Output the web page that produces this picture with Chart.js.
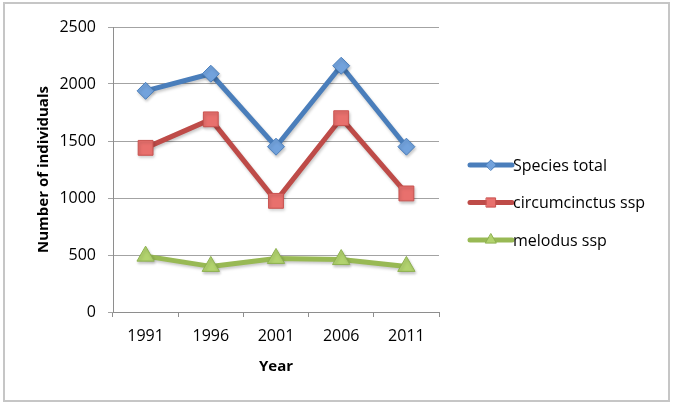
<!DOCTYPE html>
<html><head><meta charset="utf-8">
<script src="https://cdn.jsdelivr.net/npm/chart.js@4/dist/chart.umd.min.js"></script>
<style>
html,body{margin:0;padding:0;background:#fff;}
#wrap{position:relative;width:676px;height:412px;overflow:hidden;}
#frame{position:absolute;left:3px;top:2px;width:663px;height:396px;border:2px solid #c6c6c6;}
canvas{position:absolute;left:0;top:0;}
</style></head><body>
<div id="wrap"><div id="frame"></div><canvas id="c" width="676" height="412"></canvas></div>
<script>
const years = ['1991','1996','2001','2006','2011'];
const speciesTotal = [1940, 2090, 1450, 2160, 1450];
const circumcinctus = [1440, 1690, 975, 1700, 1040];
const melodus = [490, 400, 470, 460, 400];
const seriesNames = ['Species total', 'circumcinctus ssp', 'melodus ssp'];
const yMin = 0, yMax = 2500, yStep = 500;
const xTitle = 'Year';
const yTitle = 'Number of individuals';

const FONT = "'Open Sans', sans-serif";

const softShadow = {
  id: 'softShadow',
  beforeDatasetsDraw(chart) {
    const ctx = chart.ctx;
    ctx.save();
    ctx.shadowColor = 'rgba(0,0,0,0.22)';
    ctx.shadowBlur = 3;
    ctx.shadowOffsetX = 1;
    ctx.shadowOffsetY = 2;
  },
  afterDatasetsDraw(chart) {
    chart.ctx.restore();
  }
};

const sideLegend = {
  id: 'sideLegend',
  afterDraw(chart) {
    const ctx = chart.ctx;
    const H = Chart.helpers;
    chart.data.datasets.forEach((ds, i) => {
      const y = 165 + i * 37.5;
      const x0 = 470, x1 = 512;
      ctx.save();
      ctx.strokeStyle = ds.borderColor;
      ctx.lineWidth = 5;
      ctx.lineCap = 'round';
      ctx.beginPath(); ctx.moveTo(x0, y); ctx.lineTo(x1, y); ctx.stroke();
      ctx.fillStyle = ds.pointBackgroundColor;
      ctx.strokeStyle = ds.pointBorderColor;
      ctx.lineWidth = 1;
      H.drawPoint(ctx, {pointStyle: ds.pointStyle, rotation: 0, radius: ds.pointRadius * 0.62, borderWidth: 1}, (x0 + x1) / 2, y);
      ctx.fillStyle = '#000';
      ctx.font = '16px ' + FONT;
      ctx.textBaseline = 'middle';
      ctx.textAlign = 'left';
      ctx.fillText(ds.label, x1 + 1, y + 1);
      ctx.restore();
    });
  }
};

new Chart(document.getElementById('c'), {
  type: 'line',
  data: {
    labels: years,
    datasets: [
      {label: seriesNames[0], data: speciesTotal, borderColor: '#4a7ebb', borderWidth: 5,
       pointStyle: 'rectRot', pointRadius: 8.5, pointBackgroundColor: '#72a2dc', pointBorderColor: '#4a7ebb', pointBorderWidth: 1},
      {label: seriesNames[1], data: circumcinctus, borderColor: '#be4b48', borderWidth: 5,
       pointStyle: 'rect', pointRadius: 10.5, pointBackgroundColor: '#e8706d', pointBorderColor: '#c9524f', pointBorderWidth: 1},
      {label: seriesNames[2], data: melodus, borderColor: '#98b954', borderWidth: 5,
       pointStyle: 'triangle', pointRadius: 10, pointBackgroundColor: '#b2d36e', pointBorderColor: '#8db150', pointBorderWidth: 1}
    ]
  },
  options: {
    responsive: false,
    animation: false,
    devicePixelRatio: 1,
    layout: {padding: {left: 0, top: 27, right: 237, bottom: 0}},
    plugins: {legend: {display: false}, tooltip: {enabled: false}},
    elements: {line: {tension: 0, borderJoinStyle: 'round', borderCapStyle: 'round'}},
    scales: {
      x: {
        type: 'category', offset: true,
        grid: {display: true, drawOnChartArea: false, drawTicks: true, tickLength: 5, offset: true, color: '#8e8e8e'},
        border: {display: true, color: '#8e8e8e', width: 1},
        ticks: {color: '#000', font: {family: FONT, size: 16}, padding: 10, maxRotation: 0},
        title: {display: true, text: xTitle, color: '#000', font: {family: FONT, size: 15, weight: 'bold'}, padding: {top: 36, bottom: 36}},
        afterFit: s => { s.height = 100; }
      },
      y: {
        min: yMin, max: yMax,
        grid: {color: '#a3a3a3', tickLength: 5, drawTicks: true},
        border: {display: true, color: '#8e8e8e', width: 1},
        ticks: {stepSize: yStep, color: '#000', font: {family: FONT, size: 16}, padding: 12,
                callback: v => String(v)},
        title: {display: true, text: yTitle, color: '#000', font: {family: FONT, size: 15, weight: 'bold'}, padding: {top: 35, bottom: 35}},
        afterFit: s => { s.width = 113; }
      }
    }
  },
  plugins: [softShadow, sideLegend]
});
</script>
</body></html>
